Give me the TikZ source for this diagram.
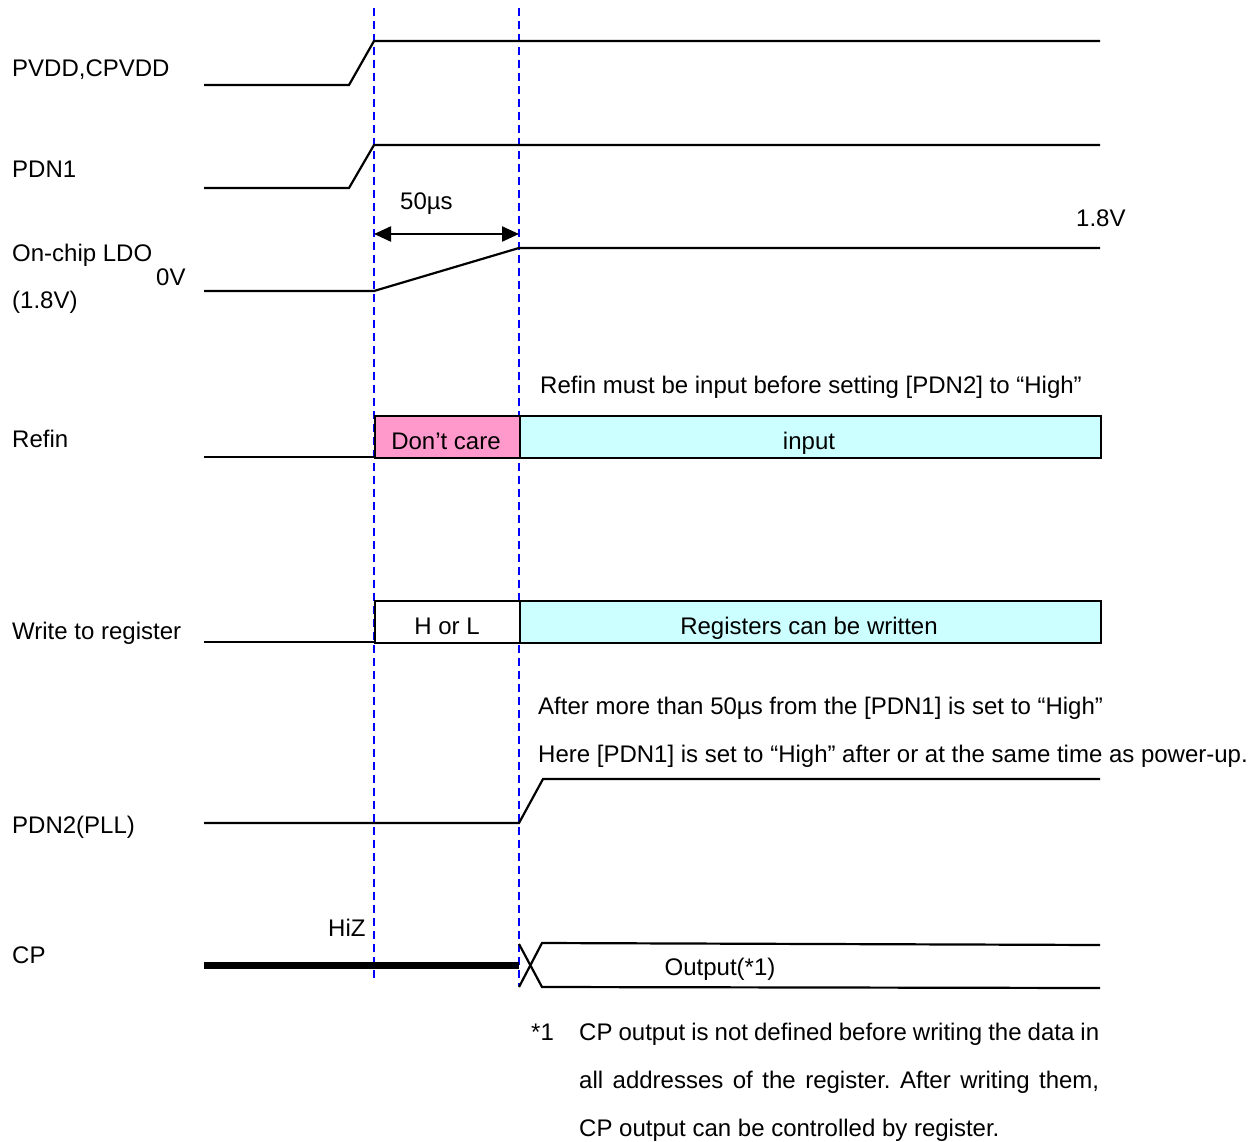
\documentclass[tikz,border=0pt]{standalone}
\usepackage{fontspec}
\setmainfont{Liberation Sans}
\usetikzlibrary{arrows.meta}
\definecolor{dcpink}{HTML}{FF99CC}
\definecolor{incyan}{HTML}{CCFFFF}
\frenchspacing
\begin{document}
\begin{tikzpicture}[x=1pt,y=-1pt,
  sig/.style={line width=2.2pt, line join=miter},
  guide/.style={blue, line width=2.6pt, dash pattern=on 8pt off 5pt},
  txt/.style={anchor=base west, inner sep=0pt, font=\fontsize{24}{29}\selectfont},
  ctxt/.style={anchor=base, inner sep=0pt, font=\fontsize{24}{29}\selectfont},
  boxshape/.style={draw=black, line width=2.2pt, anchor=north west, inner sep=0pt, minimum height=42pt},
  dim/.style={line width=2.2pt, {Triangle[length=17pt,width=15pt]}-{Triangle[length=17pt,width=15pt]}}]
\useasboundingbox (0,0) rectangle (1260,1142);

% guide lines
\coordinate (g1t) at (374,8); \coordinate (g1b) at (374,982);
\coordinate (g2t) at (519,8); \coordinate (g2b) at (519,986);
\draw[guide] (g1t) -- (g1b);
\draw[guide] (g2t) -- (g2b);

% boxes
\node (dcbox) [boxshape, fill=dcpink, minimum width=145pt] at (374,415) {};
\node (inbox) [boxshape, fill=incyan, minimum width=581pt] at (519,415) {};
\node (hlbox) [boxshape, fill=white, minimum width=145pt] at (374,600) {};
\node (rwbox) [boxshape, fill=incyan, minimum width=581pt] at (519,600) {};

% labels
\node (lpv) [txt] at (12,77) {PVDD,CPVDD};
\node (lpd1) [txt] at (12,178) {PDN1};
\node (lldo) [txt] at (12,261) {On-chip LDO};
\node (lldo2) [txt] at (12,308) {(1.8V)};
\node (lref) [txt] at (12,447) {Refin};
\node (lwr) [txt] at (12,639) {Write to register};
\node (lpd2) [txt] at (12,833) {PDN2(PLL)};
\node (lcp) [txt] at (12,963) {CP};

% PVDD
\draw[sig] (204,85) -- (349,85) -- (374,41) -- (1100,41);
% PDN1
\draw[sig] (204,188) -- (349,188) -- (374,145) -- (1100,145);
% LDO
\draw[sig] (204,291) -- (374,291) -- (519,248) -- (1100,248);
\coordinate (a1) at (374,234); \coordinate (a2) at (519,234);
\draw[dim] (a1) -- (a2);
\node (t50) [txt] at (400,210) {50µs};
\node (t18) [txt] at (1076,226) {1.8V};
\node (t0v) [txt] at (156,285) {0V};

% Refin
\draw[sig] (204,457) -- (374,457);
\node (tdc) [ctxt] at (446,449) {Don’t care};
\node (tin) [ctxt] at (809,449) {input};
\node (tref) [txt] at (540,393) {Refin must be input before setting [PDN2] to “High”};

% Write
\draw[sig] (204,642) -- (374,642);
\node (thl) [ctxt] at (447,634) {H or L};
\node (trw) [ctxt] at (809,634) {Registers can be written};
\node (taft) [txt] at (538,714) {After more than 50µs from the [PDN1] is set to “High”};
\node (there) [txt] at (538,762) {Here [PDN1] is set to “High” after or at the same time as power-up.};

% PDN2
\draw[sig] (204,823) -- (519,823) -- (543,779) -- (1100,779);

% CP
\draw[line width=7pt] (204,965) -- (519,965);
\node (thiz) [txt] at (328,936) {HiZ};
\draw[sig] (519,944) -- (542,987) -- (1100,988);
\draw[sig] (519,987) -- (542,943) -- (1100,945);
\node (tout) [ctxt] at (720,975) {Output(*1)};

% footnote
\node (fn) [txt] at (531,1040) {*1};
\node (fn1) [txt] at (579,1040) {\makebox[520pt][s]{CP output is not defined before writing the data in}};
\node (fn2) [txt] at (579,1088) {\makebox[520pt][s]{all addresses of the register. After writing them,}};
\node (fn3) [txt] at (579,1136) {CP output can be controlled by register.};
\end{tikzpicture}
\end{document}
